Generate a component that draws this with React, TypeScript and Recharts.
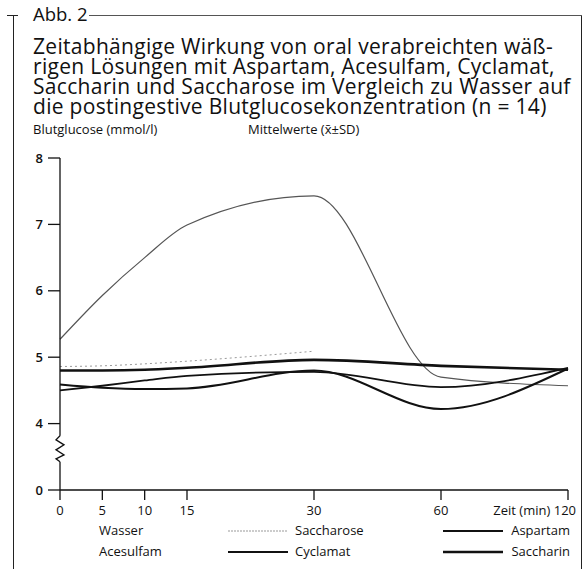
import React from "react";
import { LineChart, Line, XAxis, YAxis, ReferenceDot } from "recharts";

// measurement times (min)
const times = [0, 5, 10, 15, 30, 60, 120];
const timeLabels = ["0", "5", "10", "15", "30", "60", "Zeit (min) 120"];

// Blutglucose, mmol/l
const wasser = [4.86, 4.87, 4.9, 4.94, 5.09, null, null];
const saccharose = [5.27, 5.93, 6.5, 6.99, 7.43, 4.7, 4.57];
const aspartam = [4.5, 4.57, 4.65, 4.72, 4.78, 4.55, 4.84];
const cyclamat = [4.59, 4.54, 4.52, 4.53, 4.8, 4.22, 4.83];
const saccharin = [4.8, 4.8, 4.81, 4.84, 4.96, 4.87, 4.81];

// 3 stands for the axis break and is labelled 0
const yTicks = [3, 4, 5, 6, 7, 8];

const font = "'Open Sans', sans-serif";

// axis is linear up to 15 min, then one step per doubling
const axisPos = (t: number) => (t <= 15 ? t / 5 : 3 + 3 * Math.log2(t / 15));

const data = times.map((t, i) => ({
  pos: axisPos(t),
  wasser: wasser[i],
  saccharose: saccharose[i],
  aspartam: aspartam[i],
  cyclamat: cyclamat[i],
  saccharin: saccharin[i],
}));

const series = [
  { key: "wasser", name: "Wasser", stroke: "#9a9a9a", width: 1, dash: "2 3", sample: false },
  { key: "saccharose", name: "Saccharose", stroke: "#555", width: 1.2, dash: undefined, sample: true },
  { key: "aspartam", name: "Aspartam", stroke: "#111", width: 1.8, dash: undefined, sample: true },
  { key: "acesulfam", name: "Acesulfam", stroke: "#111", width: 1.8, dash: undefined, sample: false },
  { key: "cyclamat", name: "Cyclamat", stroke: "#111", width: 2, dash: undefined, sample: true },
  { key: "saccharin", name: "Saccharin", stroke: "#111", width: 2.6, dash: undefined, sample: true },
];

const XTick = (props: any) => {
  const { x, y, payload, index } = props;
  const last = index === times.length - 1;
  return (
    <text
      x={last ? x + 8 : x}
      y={y}
      dy="0.71em"
      textAnchor={last ? "end" : "middle"}
      fontSize={13}
      fontFamily={font}
      fill="#111"
    >
      {timeLabels[times.map(axisPos).indexOf(payload.value)]}
    </text>
  );
};

const ZigZag = (props: any) => {
  const { cx, cy } = props;
  const d = `M${cx},${cy - 13} L${cx - 4},${cy - 9} L${cx + 4},${cy - 4} L${cx - 4},${cy + 1} L${cx + 4},${cy + 6} L${cx - 4},${cy + 10} L${cx},${cy + 13}`;
  return (
    <g>
      <rect x={cx - 6} y={cy - 13} width={12} height={26} fill="#fff" />
      <path d={d} stroke="#111" strokeWidth={1.3} fill="none" />
    </g>
  );
};

// legend: three columns, sample line stands before the name
const legendText = [99, 295, 508];
const legendSample = [null, 228, 443];
const legendRows = [522, 543];

export default function App() {
  return (
    <div style={{ position: "absolute", left: 0, top: 0, width: 585, height: 569, background: "#fff", fontFamily: font, color: "#111" }}>
      {/* frame */}
      <div style={{ position: "absolute", left: 13, top: 15, width: 1, height: 554, background: "#222" }} />
      <div style={{ position: "absolute", left: 581, top: 15, width: 1, height: 554, background: "#222" }} />
      <div style={{ position: "absolute", left: 7, top: 15, width: 11, height: 1, background: "#222" }} />
      <div style={{ position: "absolute", left: 89, top: 15, width: 493, height: 1, background: "#555" }} />
      <div style={{ position: "absolute", left: 33, top: 3, fontSize: 18.5, lineHeight: "22px" }}>Abb. 2</div>

      <div style={{ position: "absolute", left: 33, top: 36, fontSize: 21, lineHeight: "20px", letterSpacing: 0.3 }}>
        <div>Zeitabhängige Wirkung von oral verabreichten wäß-</div>
        <div>rigen Lösungen mit Aspartam, Acesulfam, Cyclamat,</div>
        <div>Saccharin und Saccharose im Vergleich zu Wasser auf</div>
        <div>die postingestive Blutglucosekonzentration (n = 14)</div>
      </div>

      <div style={{ position: "absolute", left: 33, top: 120, fontSize: 13, lineHeight: "18px" }}>Blutglucose (mmol/l)</div>
      <div style={{ position: "absolute", left: 248, top: 120, fontSize: 13, lineHeight: "18px" }}>Mittelwerte (x̄±SD)</div>

      <div style={{ position: "absolute", left: 0, top: 0 }}>
        <LineChart width={585} height={569} data={data} margin={{ top: 158, right: 17, left: 0, bottom: 49 }}>
          <XAxis
            dataKey="pos"
            type="number"
            domain={[0, 12]}
            ticks={times.map(axisPos)}
            tick={<XTick />}
            tickSize={10}
            tickMargin={6}
            height={30}
            stroke="#111"
            strokeWidth={1.3}
            interval={0}
          />
          <YAxis
            type="number"
            domain={[3, 8]}
            ticks={yTicks}
            tickFormatter={(v: number) => (v === 3 ? "0" : String(v))}
            tick={{ fontSize: 13, fontFamily: font, fill: "#111", fontWeight: 600 }}
            tickSize={12}
            tickMargin={5}
            width={60}
            stroke="#111"
            strokeWidth={1.3}
            allowDataOverflow
          />
          {series
            .filter((s) => s.key !== "acesulfam")
            .map((s) => (
              <Line
                key={s.key}
                dataKey={s.key}
                name={s.name}
                type="monotone"
                stroke={s.stroke}
                strokeWidth={s.width}
                strokeDasharray={s.dash}
                dot={false}
                connectNulls={false}
                isAnimationActive={false}
              />
            ))}
          <ReferenceDot x={0} y={3.62} r={0} shape={<ZigZag />} ifOverflow="visible" />
        </LineChart>
      </div>

      {/* legend */}
      {series.map((s, i) => {
        const col = i % 3;
        const top = legendRows[Math.floor(i / 3)];
        const sx = legendSample[col];
        return (
          <React.Fragment key={s.key}>
            {s.sample && sx !== null && (
              <svg width={60} height={6} style={{ position: "absolute", left: sx, top: top + 6 }}>
                <line
                  x1={0}
                  y1={3}
                  x2={60}
                  y2={3}
                  stroke={s.key === "saccharose" ? "#999" : s.stroke}
                  strokeWidth={s.width}
                  strokeDasharray={s.key === "saccharose" ? "2 1" : undefined}
                />
              </svg>
            )}
            <div
              style={{
                position: "absolute",
                left: legendText[col],
                top,
                width: col === 2 ? 62 : undefined,
                textAlign: col === 2 ? "right" : "left",
                fontSize: 13,
                lineHeight: "17px",
              }}
            >
              {s.name}
            </div>
          </React.Fragment>
        );
      })}
    </div>
  );
}
